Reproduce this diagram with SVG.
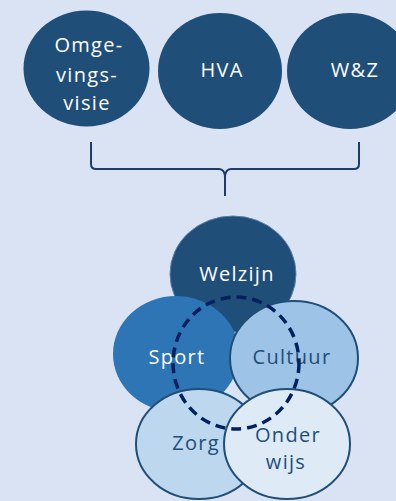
<svg xmlns="http://www.w3.org/2000/svg" width="396" height="501" viewBox="0 0 396 501">
<style>
.t{font-family:"Open Sans","Liberation Sans",sans-serif;font-size:20px;letter-spacing:1.3px;text-anchor:middle}
.w{fill:#ffffff}
.d{fill:#1F4E79}
.dk{fill:#1F4E79}
.ring{stroke:#1F4E79;stroke-width:2}
</style>
<rect width="396" height="501" fill="#DAE3F3"/>
<g id="omgevingsvisie">
<ellipse cx="86.5" cy="68.5" rx="63" ry="58" class="dk"/>
<text class="t w" x="89" y="52">Omge-</text>
<text class="t w" x="87" y="82">vings-</text>
<text class="t w" x="87" y="110">visie</text>
</g>
<g id="hva">
<ellipse cx="220" cy="71" rx="62" ry="58" class="dk"/>
<text class="t w" x="222" y="77">HVA</text>
</g>
<g id="wz">
<ellipse cx="350" cy="71" rx="63" ry="58" class="dk"/>
<text class="t w" x="355" y="77">W&amp;Z</text>
</g>
<g id="connectors">
<path d="M91,142 L91,164 Q91,169 96,169 L219,169 Q225,169 225,178 L225,196 M225,178 Q225,169 231,169 L354,169 Q359,169 359,164 L359,142" fill="none" stroke="#1F3A6E" stroke-width="2"/>
</g>
<g id="welzijn">
<ellipse cx="233" cy="274" rx="63" ry="58" fill="#1F4E79" stroke="#5A7FA6" stroke-width="1"/>
<text class="t w" x="237" y="281">Welzijn</text>
</g>
<g id="sport">
<ellipse cx="176" cy="354" rx="63" ry="58" fill="#2E75B6"/>
<text class="t w" x="177" y="364">Sport</text>
</g>
<g id="cultuur">
<ellipse cx="294" cy="358" rx="64" ry="57" fill="#9DC3E6" class="ring"/>
<text class="t d" x="292" y="364">Cultuur</text>
</g>
<g id="zorg">
<ellipse cx="199" cy="444" rx="63" ry="55" fill="#BDD7EE" class="ring"/>
<text class="t d" x="196" y="450">Zorg</text>
</g>
<g id="onderwijs">
<ellipse cx="287" cy="444" rx="63" ry="55" fill="#DEEBF7" class="ring"/>
<text class="t d" x="288" y="442">Onder</text>
<text class="t d" x="286" y="469">wijs</text>
</g>
<g id="overlap">
<ellipse cx="236" cy="363" rx="63" ry="66" fill="none" stroke="#002060" stroke-width="3.5" stroke-dasharray="10,6"/>
</g>
</svg>
